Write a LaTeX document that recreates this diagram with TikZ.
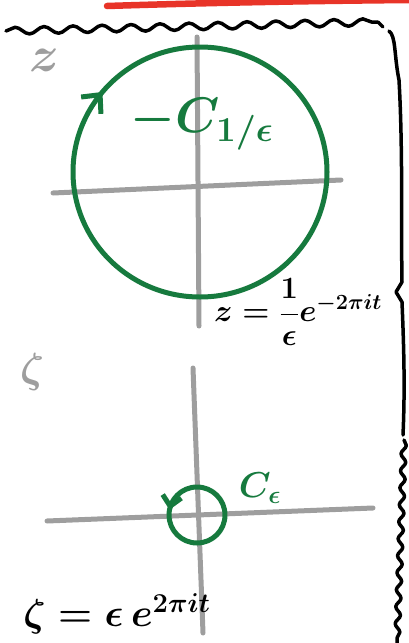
\documentclass[tikz,border=0pt]{standalone}
\usepackage{fix-cm}
\usetikzlibrary{decorations.pathmorphing,decorations.markings,arrows.meta}
\definecolor{pengreen}{RGB}{22,122,62}
\definecolor{pengray}{RGB}{158,158,158}
\definecolor{penred}{RGB}{232,52,40}
\newcommand{\fsz}[1]{\fontsize{#1}{#1}\selectfont\boldmath}
\begin{document}
\begin{tikzpicture}[x=1pt,y=-1pt,line cap=round,line join=round,
    axis/.style={draw=pengray,line width=5pt},
    contour/.style={draw=pengreen,line width=5pt},
    ink/.style={draw=black,line width=3.5pt}]
    \useasboundingbox (0,0) rectangle (409,643);

    % red stroke and the torn page edge
    \draw[draw=penred,line width=6.5pt] (107,6) .. controls (200,3) and (300,1) .. (409,0);
    \draw[ink,decorate,decoration={snake,amplitude=3.5pt,segment length=29pt}] (6,31) -- (378,22);
    \draw[ink] (378,22) -- (383,27);
    \draw[ink] (389,31) .. controls (396,36) and (394,55) .. (399,80)
        .. controls (403,150) and (401,230) .. (402,282) -- (396,292) -- (402,302)
        .. controls (404,350) and (405,390) .. (403,435);
    \draw[ink,decorate,decoration={snake,amplitude=2.5pt,segment length=17pt}] (404,440) -- (397,643);

    % z plane
    \draw[axis] (197,37) -- (199,326);
    \draw[axis] (53,193) -- (341,180);
    \draw[contour,postaction={decorate},decoration={markings,
        mark=at position 0.61 with {\arrow[pengreen]{Straight Barb[length=14pt,width=26pt,line width=5pt]}}}]
        (200,172) ellipse [x radius=127, y radius=125];
    \node[text=pengray,font=\fsz{50}] (zname) at (44,60) {$z$};
    \node[text=pengreen,font=\fsz{50}] (cbig) at (202,124) {$-C_{1/\epsilon}$};
    \node[font=\fsz{31}] (zmap) at (298,312) {$\displaystyle z=\frac{1}{\epsilon}e^{-2\pi i t}$};

    % zeta plane
    \draw[axis] (193,368) -- (203,633);
    \draw[axis] (47,521) -- (373,508);
    \draw[contour,postaction={decorate},decoration={markings,
        mark=at position 0.53 with {\arrowreversed[pengreen]{Straight Barb[length=10pt,width=19pt,line width=5pt]}}}]
        (197,515) circle [radius=28];
    \node[text=pengray,font=\fsz{42}] (zetaname) at (32,372) {$\zeta$};
    \node[text=pengreen,font=\fsz{36}] (csmall) at (260,488) {$C_\epsilon$};
    \node[font=\fsz{39}] (zetamap) at (117,614) {$\zeta=\epsilon\,e^{2\pi i t}$};
\end{tikzpicture}
\end{document}
